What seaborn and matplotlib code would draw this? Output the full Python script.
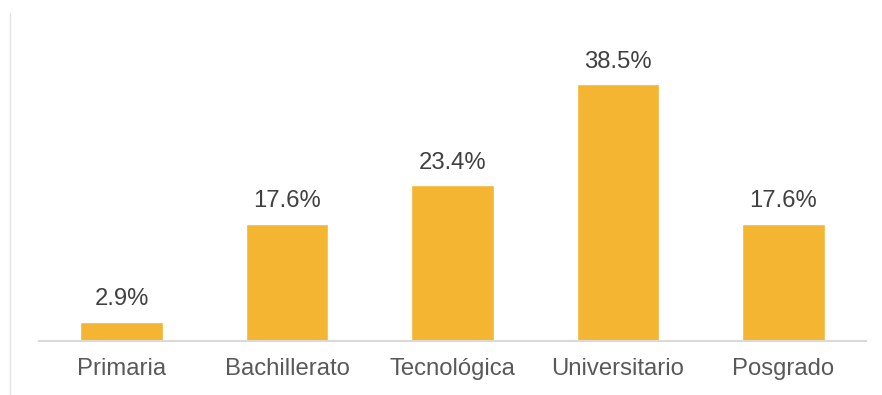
import matplotlib
matplotlib.use("Agg")
import matplotlib.pyplot as plt
import seaborn as sns
import pandas as pd

categories = ["Primaria", "Bachillerato", "Tecnológica", "Universitario", "Posgrado"]
values = [2.9, 17.6, 23.4, 38.5, 17.6]
value_labels = ["2.9%", "17.6%", "23.4%", "38.5%", "17.6%"]

df = pd.DataFrame({"nivel": categories, "pct": values})

sns.set_theme(style="white")
plt.rcParams["font.family"] = ["Liberation Sans", "DejaVu Sans"]

fig = plt.figure(figsize=(8.82, 3.95), dpi=100)
ax = fig.add_axes([39 / 882, 1 - 341 / 395, 827 / 882, 328 / 395])

sns.barplot(data=df, x="nivel", y="pct", color="#F4B532", saturation=1,
            width=0.5, ax=ax)

ax.set_ylim(0, 49.2)
ax.set_xlim(-0.5, len(categories) - 0.5)
for i, (v, lab) in enumerate(zip(values, value_labels)):
    ax.text(i, v + 1.7, lab, ha="center", va="bottom", fontsize=17.2,
            color="#404040")

ax.set_xlabel("")
ax.set_ylabel("")
ax.set_yticks([])
ax.tick_params(axis="x", length=0, pad=12, labelsize=17.2, labelcolor="#595959")
for side in ["top", "right", "left"]:
    ax.spines[side].set_visible(False)
ax.spines["bottom"].set_color("#D9D9D9")
ax.spines["bottom"].set_linewidth(1.5)

# thin frame edge on the left
fig.add_artist(plt.Line2D([9.5 / 882, 9.5 / 882], [0, 1 - 13 / 395],
                          transform=fig.transFigure, color="#E3E3E3", lw=1))

fig.savefig("out.png", dpi=100)
